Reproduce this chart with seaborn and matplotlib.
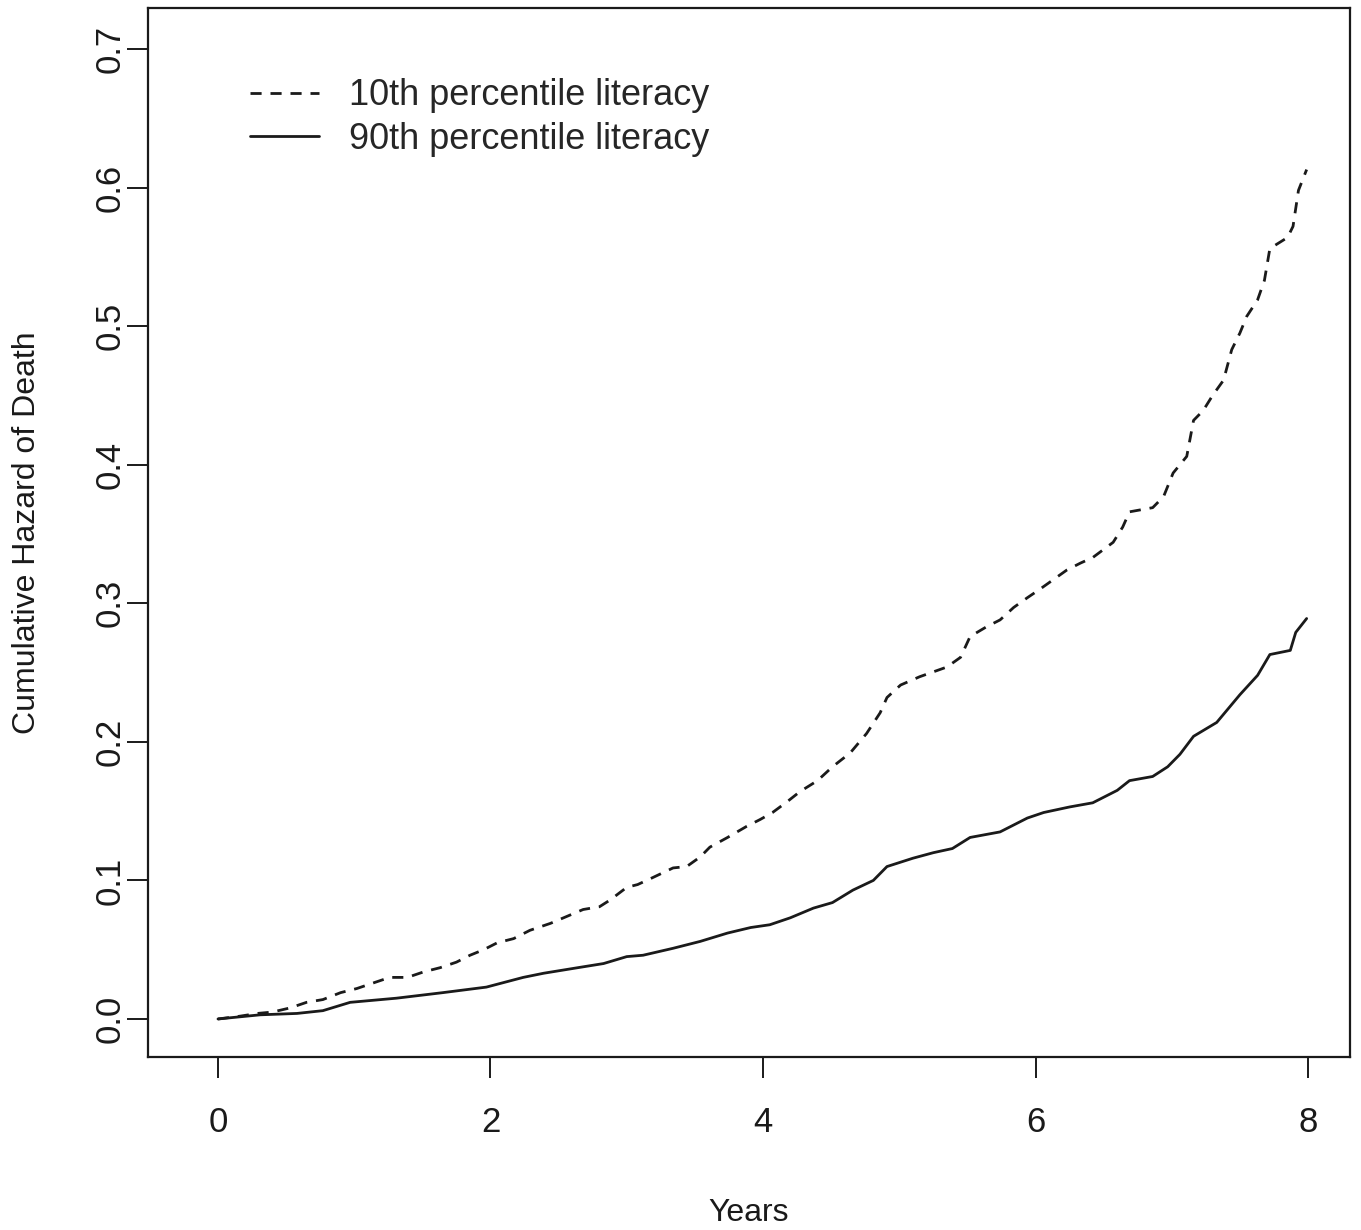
import numpy as np
import pandas as pd
import seaborn as sns
import matplotlib.pyplot as plt

# cumulative hazard curves
years_p10 = [0.0, 0.16, 0.29, 0.40, 0.53, 0.65, 0.77, 0.90, 1.02, 1.14, 1.26, 1.39, 1.51, 1.63,
             1.75, 1.85, 1.95, 2.05, 2.17, 2.29, 2.44, 2.56, 2.68, 2.80, 2.88, 3.00, 3.08, 3.19,
             3.34, 3.44, 3.54, 3.61, 3.74, 3.88, 3.98, 4.07, 4.18, 4.27, 4.40, 4.51, 4.64, 4.76,
             4.86, 4.91, 5.01, 5.15, 5.35, 5.45, 5.52, 5.64, 5.74, 5.84, 5.94, 6.03, 6.13, 6.23,
             6.33, 6.42, 6.57, 6.64, 6.69, 6.86, 6.94, 7.01, 7.11, 7.16, 7.23, 7.30, 7.38, 7.44,
             7.50, 7.55, 7.63, 7.68, 7.72, 7.85, 7.89, 7.93, 7.99]
hazard_p10 = [0.000, 0.002, 0.004, 0.005, 0.008, 0.012, 0.014, 0.019, 0.022, 0.026, 0.030, 0.030,
              0.034, 0.037, 0.041, 0.046, 0.050, 0.055, 0.058, 0.064, 0.069, 0.074, 0.079, 0.081,
              0.086, 0.095, 0.097, 0.102, 0.109, 0.110, 0.117, 0.124, 0.131, 0.139, 0.144, 0.149,
              0.157, 0.164, 0.172, 0.182, 0.192, 0.206, 0.221, 0.232, 0.241, 0.247, 0.254, 0.261,
              0.276, 0.283, 0.288, 0.297, 0.304, 0.310, 0.317, 0.324, 0.329, 0.333, 0.344, 0.355,
              0.366, 0.369, 0.377, 0.394, 0.406, 0.432, 0.439, 0.450, 0.461, 0.483, 0.495, 0.507,
              0.519, 0.533, 0.556, 0.564, 0.572, 0.598, 0.613]

years_p90 = [0.0, 0.31, 0.58, 0.77, 0.97, 1.31, 1.65, 1.97, 2.24, 2.39, 2.64, 2.83, 3.00, 3.12,
             3.34, 3.54, 3.74, 3.91, 4.05, 4.20, 4.37, 4.51, 4.66, 4.81, 4.91, 5.10, 5.25, 5.39,
             5.52, 5.74, 5.94, 6.06, 6.25, 6.42, 6.60, 6.69, 6.86, 6.97, 7.06, 7.16, 7.33, 7.50,
             7.63, 7.72, 7.87, 7.91, 7.99]
hazard_p90 = [0.000, 0.003, 0.004, 0.006, 0.012, 0.015, 0.019, 0.023, 0.030, 0.033, 0.037, 0.040,
              0.045, 0.046, 0.051, 0.056, 0.062, 0.066, 0.068, 0.073, 0.080, 0.084, 0.093, 0.100,
              0.110, 0.116, 0.120, 0.123, 0.131, 0.135, 0.145, 0.149, 0.153, 0.156, 0.165, 0.172,
              0.175, 0.182, 0.191, 0.204, 0.214, 0.234, 0.248, 0.263, 0.266, 0.279, 0.289]

labels = ["10th percentile literacy", "90th percentile literacy"]
x_ticks = [0, 2, 4, 6, 8]
y_ticks = [0.0, 0.1, 0.2, 0.3, 0.4, 0.5, 0.6, 0.7]

df = pd.concat([
    pd.DataFrame({"Years": years_p10, "Hazard": hazard_p10, "group": labels[0]}),
    pd.DataFrame({"Years": years_p90, "Hazard": hazard_p90, "group": labels[1]}),
])

sns.set_style("ticks")
plt.rcParams["font.family"] = ["Liberation Sans", "DejaVu Sans"]
ink = "#1a1a1a"

fig = plt.figure(figsize=(13.61, 12.30), dpi=100)
ax = fig.add_axes([0.1087, 0.1407, 0.8832, 0.8528])

sns.lineplot(data=df, x="Years", y="Hazard", style="group",
             dashes={labels[0]: (4, 3.2), labels[1]: ""},
             color=ink, linewidth=2.0, estimator=None, sort=True, ax=ax)

ax.set_xlim(-0.514, 8.308)
ax.set_ylim(-0.0274, 0.7296)
ax.set_xticks(x_ticks)
ax.set_yticks(y_ticks)
ax.set_xticklabels([str(v) for v in x_ticks])
ax.set_yticklabels([f"{v:.1f}" for v in y_ticks], rotation=90, va="center")

for sp in ax.spines.values():
    sp.set_color(ink)
    sp.set_linewidth(1.6)
ax.tick_params(axis="both", length=15, width=1.4, color=ink, labelcolor=ink, labelsize=25)
ax.tick_params(axis="x", pad=20)
ax.tick_params(axis="y", pad=0)

ax.set_xlabel("Years", fontsize=23, color=ink, va="center")
ax.set_ylabel("Cumulative Hazard of Death", fontsize=23, color=ink, va="center")
ax.xaxis.set_label_coords(0.5, -0.1485, transform=ax.transAxes)
ax.yaxis.set_label_coords(-0.1007, 0.5, transform=ax.transAxes)

handles, _ = ax.get_legend_handles_labels()
ax.legend(handles=handles, labels=labels, loc="upper left", bbox_to_anchor=(0.085, 0.933),
          frameon=False, fontsize=26, handlelength=1.9, handletextpad=0.83,
          labelspacing=0.24, borderpad=0, borderaxespad=0)

fig.savefig("out.png", dpi=100)
